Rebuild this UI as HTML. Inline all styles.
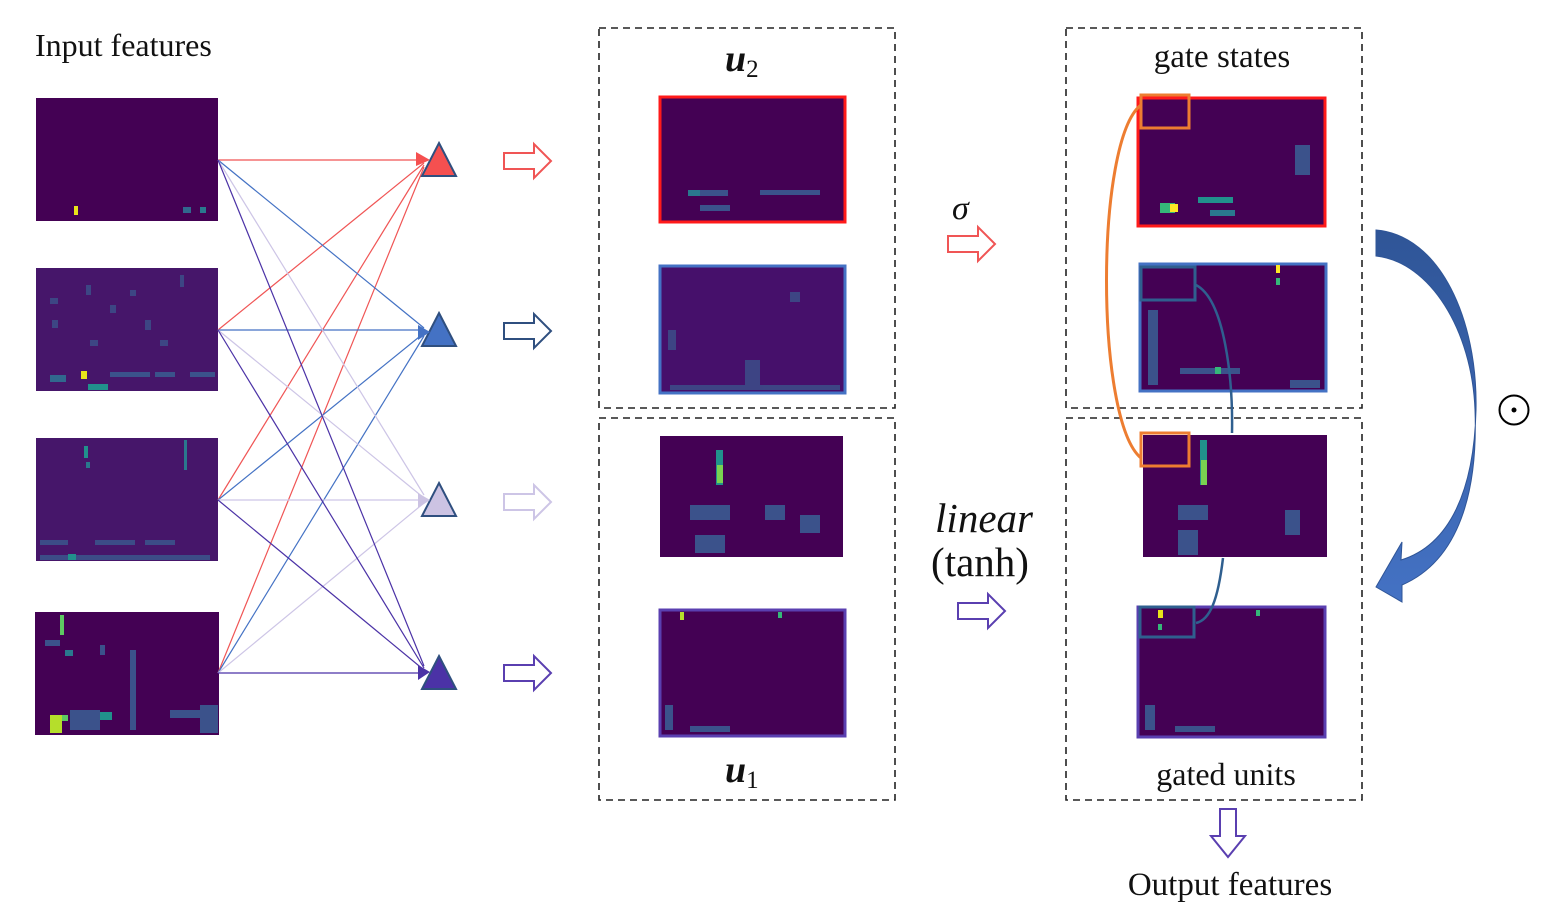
<!DOCTYPE html>
<html><head><meta charset="utf-8"><style>
html,body{margin:0;padding:0;background:#fff;}
svg{display:block;}
text{font-family:"Liberation Serif",serif;fill:#111;}
</style></head><body>
<svg width="1543" height="922" viewBox="0 0 1543 922" xmlns="http://www.w3.org/2000/svg">
<defs>
<g id="harrow"><path d="M0,-8 H30 V-17 L47,0 L30,17 V8 H0 Z" fill="#fff" stroke-width="2"/></g>
</defs>
<text x="35" y="56" font-size="32">Input features</text>

<rect x="36" y="98" width="182" height="123" fill="#440154"/>
<rect x="74" y="206" width="4" height="9" fill="#e8e41a"/>
<rect x="183" y="207" width="8" height="6" fill="#31688e"/><rect x="200" y="207" width="6" height="6" fill="#2a788e"/>

<rect x="36" y="268" width="182" height="123" fill="#46166a"/>
<g fill="#3b528b" opacity="0.8">
<rect x="50" y="298" width="8" height="6"/><rect x="86" y="285" width="5" height="10"/><rect x="110" y="305" width="6" height="8"/><rect x="145" y="320" width="6" height="10"/><rect x="52" y="320" width="6" height="8"/><rect x="180" y="275" width="4" height="12"/><rect x="90" y="340" width="8" height="6"/><rect x="130" y="290" width="6" height="6"/><rect x="160" y="340" width="8" height="6"/>
</g>
<rect x="50" y="375" width="16" height="7" fill="#31688e"/><rect x="81" y="371" width="6" height="8" fill="#e8e41a"/><rect x="88" y="384" width="20" height="6" fill="#21918c"/>
<rect x="110" y="372" width="40" height="5" fill="#3b528b"/><rect x="155" y="372" width="20" height="5" fill="#3b528b"/><rect x="190" y="372" width="25" height="5" fill="#3b528b"/>

<rect x="36" y="438" width="182" height="123" fill="#46166a"/>
<rect x="84" y="446" width="4" height="12" fill="#21918c"/><rect x="86" y="462" width="4" height="6" fill="#2a788e"/>
<rect x="184" y="440" width="3" height="30" fill="#2a788e"/>
<g fill="#3b528b" opacity="0.9"><rect x="40" y="540" width="28" height="5"/><rect x="95" y="540" width="40" height="5"/><rect x="145" y="540" width="30" height="5"/><rect x="40" y="555" width="170" height="5"/></g>
<rect x="68" y="554" width="8" height="6" fill="#21918c"/>

<rect x="35" y="612" width="184" height="123" fill="#440154"/>
<rect x="60" y="615" width="4" height="20" fill="#5ec962"/><rect x="65" y="650" width="8" height="6" fill="#2a788e"/>
<g fill="#3b528b"><rect x="45" y="640" width="15" height="6"/><rect x="100" y="645" width="5" height="10"/><rect x="130" y="650" width="6" height="80"/><rect x="70" y="710" width="30" height="20"/><rect x="170" y="710" width="30" height="8"/><rect x="200" y="705" width="18" height="28"/></g>
<rect x="50" y="715" width="12" height="18" fill="#b5de2b"/><rect x="62" y="715" width="6" height="6" fill="#5ec962"/><rect x="100" y="712" width="12" height="8" fill="#21918c"/>

<g stroke-width="1.2" fill="none">
<g stroke="#f05555">
<line x1="218" y1="160" x2="424" y2="160"/><line x1="218" y1="330" x2="424" y2="163"/><line x1="218" y1="500" x2="424" y2="165"/><line x1="218" y1="673" x2="424" y2="167"/>
</g>
<g stroke="#4472c4">
<line x1="218" y1="160" x2="424" y2="328"/><line x1="218" y1="330" x2="424" y2="330"/><line x1="218" y1="500" x2="424" y2="333"/><line x1="218" y1="673" x2="424" y2="336"/>
</g>
<g stroke="#cdc5e6">
<line x1="218" y1="160" x2="424" y2="495"/><line x1="218" y1="330" x2="424" y2="498"/><line x1="218" y1="500" x2="424" y2="500"/><line x1="218" y1="673" x2="424" y2="503"/>
</g>
<g stroke="#4b32a6">
<line x1="218" y1="160" x2="424" y2="666"/><line x1="218" y1="330" x2="424" y2="668"/><line x1="218" y1="500" x2="424" y2="670"/><line x1="218" y1="673" x2="424" y2="673"/>
</g>
</g>
<g stroke="#2f4f7f" stroke-width="2">
<path d="M439,143 L456,176 L422,176 Z" fill="#f55050"/>
<path d="M439,313 L456,346 L422,346 Z" fill="#4472c4"/>
<path d="M439,483 L456,516 L422,516 Z" fill="#ccc3e3"/>
<path d="M439,656 L456,689 L422,689 Z" fill="#4b32a6"/>
</g>
<path d="M416,152 L430,160 L416,166 Z" fill="#f55050"/>
<path d="M418,325 L430,332 L418,340 Z" fill="#4472c4"/>
<path d="M418,493 L430,500 L418,508 Z" fill="#ccc3e3"/>
<path d="M418,665 L430,672 L418,680 Z" fill="#4b32a6"/>
<use href="#harrow" x="504" y="161" stroke="#f05555"/>
<use href="#harrow" x="504" y="331" stroke="#2f4f7f"/>
<use href="#harrow" x="504" y="502" stroke="#cdc5e6"/>
<use href="#harrow" x="504" y="673" stroke="#5a3fb0"/>

<g fill="none" stroke="#222" stroke-width="1.6" stroke-dasharray="7,5">
<rect x="599" y="28" width="296" height="380"/><rect x="599" y="418" width="296" height="382"/>
<rect x="1066" y="28" width="296" height="380"/><rect x="1066" y="418" width="296" height="382"/>
</g>

<text x="725" y="71" font-size="38" font-weight="bold" font-style="italic">u<tspan font-size="25" font-weight="normal" font-style="normal" dy="6">2</tspan></text>
<text x="725" y="782" font-size="38" font-weight="bold" font-style="italic">u<tspan font-size="25" font-weight="normal" font-style="normal" dy="6">1</tspan></text>

<rect x="660" y="97" width="185" height="125" fill="#440154" stroke="#ff1a1a" stroke-width="3"/>
<g fill="#3b528b"><rect x="688" y="190" width="40" height="6"/><rect x="760" y="190" width="60" height="5"/><rect x="700" y="205" width="30" height="6"/></g>
<rect x="688" y="190" width="12" height="6" fill="#2a788e"/>
<rect x="660" y="266" width="185" height="127" fill="#46106b" stroke="#4472c4" stroke-width="3"/>
<g fill="#3b528b" opacity="0.8"><rect x="790" y="292" width="10" height="10"/><rect x="668" y="330" width="8" height="20"/><rect x="745" y="360" width="15" height="30"/><rect x="670" y="385" width="170" height="5"/></g>
<rect x="660" y="436" width="183" height="121" fill="#440154"/>
<rect x="716" y="450" width="7" height="35" fill="#21918c"/><rect x="717" y="465" width="6" height="18" fill="#7ad151"/>
<g fill="#3b528b"><rect x="690" y="505" width="40" height="15"/><rect x="765" y="505" width="20" height="15"/><rect x="800" y="515" width="20" height="18"/><rect x="695" y="535" width="30" height="18"/></g>
<rect x="660" y="610" width="185" height="126" fill="#440154" stroke="#5a3fb0" stroke-width="3"/>
<rect x="680" y="612" width="4" height="8" fill="#b5de2b"/><rect x="778" y="612" width="4" height="6" fill="#35b779"/>
<g fill="#3b528b"><rect x="690" y="726" width="40" height="6"/><rect x="665" y="705" width="8" height="25"/></g>

<text x="952" y="219" font-size="34" font-style="italic">σ</text>
<use href="#harrow" x="948" y="244" stroke="#f05555"/>
<text x="984" y="532" font-size="41" font-style="italic" text-anchor="middle">linear</text>
<text x="980" y="576" font-size="41" text-anchor="middle">(tanh)</text>
<use href="#harrow" x="958" y="611" stroke="#5a3fb0"/>

<text x="1222" y="67" font-size="33" text-anchor="middle">gate states</text>
<rect x="1138" y="98" width="187" height="128" fill="#440154" stroke="#ff1a1a" stroke-width="3"/>
<rect x="1160" y="203" width="15" height="10" fill="#35b779"/><rect x="1170" y="204" width="8" height="8" fill="#fde725"/>
<rect x="1198" y="197" width="35" height="6" fill="#21918c"/><rect x="1210" y="210" width="25" height="6" fill="#2a788e"/>
<rect x="1295" y="145" width="15" height="30" fill="#3b528b"/>
<rect x="1140" y="264" width="186" height="127" fill="#440154" stroke="#4472c4" stroke-width="3"/>
<rect x="1276" y="265" width="4" height="8" fill="#fde725"/><rect x="1276" y="278" width="4" height="7" fill="#35b779"/>
<g fill="#3b528b"><rect x="1148" y="310" width="10" height="75"/><rect x="1180" y="368" width="60" height="6"/><rect x="1290" y="380" width="30" height="8"/></g>
<rect x="1215" y="367" width="6" height="7" fill="#35b779"/>
<rect x="1143" y="435" width="184" height="122" fill="#440154"/>
<rect x="1200" y="440" width="7" height="45" fill="#21918c"/><rect x="1201" y="460" width="6" height="25" fill="#7ad151"/>
<g fill="#3b528b"><rect x="1178" y="505" width="30" height="15"/><rect x="1285" y="510" width="15" height="25"/><rect x="1178" y="530" width="20" height="25"/></g>
<rect x="1138" y="607" width="187" height="130" fill="#440154" stroke="#5a3fb0" stroke-width="3"/>
<rect x="1158" y="610" width="5" height="8" fill="#e8e41a"/><rect x="1158" y="624" width="4" height="6" fill="#35b779"/>
<rect x="1256" y="610" width="4" height="6" fill="#35b779"/>
<g fill="#3b528b"><rect x="1175" y="726" width="40" height="6"/><rect x="1145" y="705" width="10" height="25"/></g>

<g fill="none" stroke-width="3">
<rect x="1141" y="95" width="48" height="33" stroke="#ed7d31"/>
<rect x="1141" y="433" width="48" height="33" stroke="#ed7d31"/>
<path d="M1141,105 C1095,140 1095,420 1141,458" stroke="#ed7d31"/>
<rect x="1141" y="267" width="54" height="33" stroke="#2f5f8f"/>
<rect x="1140" y="607" width="54" height="30" stroke="#2f5f8f"/>
<path d="M1196,285 C1225,300 1233,380 1232,433" stroke="#2f5f8f" stroke-width="2.5"/>
<path d="M1223,558 C1218,600 1210,620 1196,623" stroke="#2f5f8f" stroke-width="2.5"/>
</g>

<defs><linearGradient id="bg" x1="0" y1="0" x2="0" y2="1"><stop offset="0" stop-color="#2f5597"/><stop offset="1" stop-color="#4472c4"/></linearGradient></defs>
<path d="M1376,230 C1440,235 1478,320 1476,410 C1474,490 1450,545 1401,560 L1402,542 L1376,587 L1402,602 L1402,585 C1460,560 1478,490 1475,410 C1472,330 1430,262 1376,256 Z" fill="url(#bg)" stroke="#2f5597" stroke-width="1"/>
<circle cx="1514" cy="410" r="14.5" fill="none" stroke="#000" stroke-width="2"/>
<circle cx="1514" cy="410" r="2.5" fill="#000"/>

<text x="1226" y="785" font-size="32" text-anchor="middle">gated units</text>
<path d="M1220,809 H1236 V836 H1245 L1228,857 L1211,836 H1220 Z" fill="#fff" stroke="#5a3fb0" stroke-width="2"/>
<text x="1230" y="895" font-size="33" text-anchor="middle">Output features</text>
</svg>
</body></html>
